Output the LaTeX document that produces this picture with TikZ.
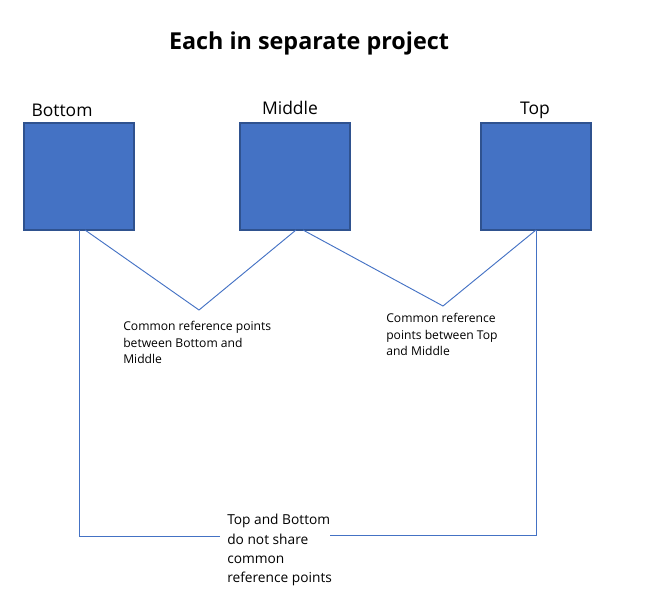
\documentclass[tikz,border=0pt]{standalone}
\usepackage{fontspec}
\setmainfont{Open Sans}
\definecolor{boxfill}{HTML}{4472C4}
\definecolor{boxline}{HTML}{2F528F}
\definecolor{conn}{HTML}{4472C4}
\begin{document}
\begin{tikzpicture}[x=0.75pt,y=-0.75pt,
  box/.style={draw=boxline,fill=boxfill,line width=0.9pt,minimum width=82.5pt,minimum height=80.25pt,inner sep=0pt,outer sep=0pt},
  lbl/.style={font=\fontsize{13.1pt}{15pt}\selectfont,inner sep=0pt,anchor=base},
  note/.style={align=left,anchor=north west,inner sep=0pt,font=\fontsize{9.1pt}{12.4pt}\selectfont},
  bignote/.style={align=left,anchor=north west,inner sep=0pt,font=\fontsize{10.3pt}{14.5pt}\selectfont},
  conn/.style={draw=conn,line width=0.7pt}]
\useasboundingbox (0,0) rectangle (654,606);
\node[font=\bfseries\fontsize{17.5pt}{20pt}\selectfont,inner sep=0pt,anchor=base] (title) at (309,50) {Each in separate project};
\node[box] (bot) at (79,176.5) {};
\node[box] (mid) at (295,176.5) {};
\node[box] (top) at (536,176.5) {};
\node[lbl] (lbot) at (62,117) {Bottom};
\node[lbl] (lmid) at (290,115) {Middle};
\node[lbl] (ltop) at (535,115) {Top};
\node[note] (n1) at (123,321) {Common reference points\\between Bottom and\\Middle};
\node[note] (n2) at (386,313) {Common reference\\points between Top\\and Middle};
\node[bignote] (n3) at (227,514) {Top and Bottom\\do not share\\common\\reference points};
\coordinate (v1) at (199,310);
\coordinate (v2) at (443,306);
\coordinate (gL) at (220,536);
\coordinate (gR) at (330,535);
\draw[conn] ([xshift=4.5pt]bot.south) -- (v1) -- ([xshift=0.75pt]mid.south);
\draw[conn] ([xshift=6pt]mid.south) -- (v2) -- (top.south);
\draw[conn] (bot.south) |- (gL);
\draw[conn] (gR) -| (top.south);
\end{tikzpicture}
\end{document}
